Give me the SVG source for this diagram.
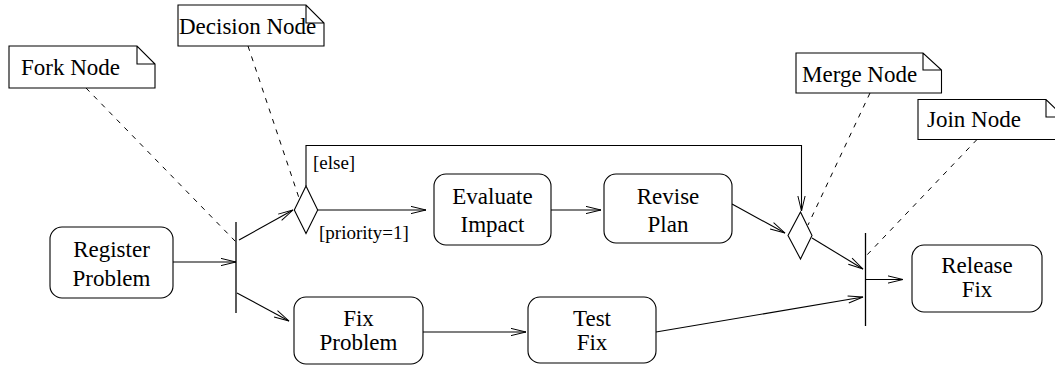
<svg xmlns="http://www.w3.org/2000/svg" width="1055" height="365" viewBox="0 0 1055 365" font-family="'Liberation Serif', 'Times New Roman', Times, serif">
<defs>
<marker id="open" markerUnits="userSpaceOnUse" markerWidth="20" markerHeight="12" viewBox="-16 -6 18 12" refX="0" refY="0" orient="auto">
<path d="M -15 -3.6 L 0 0 L -15 3.6" fill="none" stroke="#000" stroke-width="1"/>
</marker>
</defs>
<style>
.box{fill:#fff;stroke:#000;stroke-width:1.1}
.note{fill:#fff;stroke:#000;stroke-width:1.1}
.bar{stroke:#000;stroke-width:1.3;fill:none}
.dia{fill:#fff;stroke:#000;stroke-width:1.1}
text{font-family:'Liberation Serif','Times New Roman',Times,serif}
.t{font-size:23px;fill:#000}
.m{text-anchor:middle}
.g{font-size:19px;fill:#000}
.c{stroke:#000;stroke-width:1.1;fill:none}
.a{marker-end:url(#open)}
.d{stroke:#000;stroke-width:1;fill:none;stroke-dasharray:5 6}
</style>

<g id="connectors">
<line class="c a" x1="173" y1="262" x2="236" y2="262"/>
<line class="c a" x1="239" y1="240" x2="293" y2="210"/>
<line class="c a" x1="237" y1="293" x2="289" y2="321"/>
<line class="c a" x1="318" y1="210" x2="426" y2="210"/>
<polyline class="c a" points="306,186 306,145.5 801.5,145.5 801.5,211"/>
<line class="c a" x1="551" y1="210" x2="601" y2="210"/>
<line class="c a" x1="732" y1="204" x2="785" y2="233"/>
<line class="c a" x1="812" y1="238" x2="863" y2="269"/>
<line class="c a" x1="423" y1="332" x2="526" y2="332"/>
<line class="c a" x1="656" y1="332" x2="863" y2="297"/>
<line class="c a" x1="866" y1="279.5" x2="903" y2="279.5"/>
<line class="d" x1="86" y1="88" x2="236" y2="242"/>
<line class="d" x1="248" y1="46" x2="299" y2="198"/>
<line class="d" x1="870" y1="93" x2="808" y2="225"/>
<line class="d" x1="977" y1="139.5" x2="866" y2="256"/>
</g>

<g id="note-fork">
<path class="note" d="M9 46 H137 L155 64 V88 H9 Z M137 46 V64 H155"/>
<text class="t" x="21" y="75">Fork Node</text>
</g>
<g id="note-decision">
<path class="note" d="M178 5 H306 L324 23 V46 H178 Z M306 5 V23 H324"/>
<text class="t" x="179" y="34">Decision Node</text>
</g>
<g id="note-merge">
<path class="note" d="M796 53 H923 L941.5 70 V93 H796 Z M923 53 V70 H941.5"/>
<text class="t" x="802" y="82">Merge Node</text>
</g>
<g id="note-join">
<path class="note" d="M918 99.5 H1046 L1064 117 V139.5 H918 Z M1046 99.5 V117 H1064"/>
<text class="t" x="927" y="127">Join Node</text>
</g>

<g id="register-problem">
<rect class="box" x="50" y="227" width="123" height="71" rx="12"/>
<text class="t m" x="111.5" y="257">Register</text>
<text class="t m" x="111.5" y="286">Problem</text>
</g>
<g id="fork">
<line class="bar" x1="236" y1="222" x2="236" y2="313"/>
</g>
<g id="decision">
<polygon class="dia" points="306,186 317.7,210 306,233.5 294.3,210"/>
</g>
<text class="g" x="313" y="168.5">[else]</text>
<text class="g" x="319" y="238.5">[priority=1]</text>
<g id="evaluate-impact">
<rect class="box" x="434" y="174" width="117" height="71" rx="12"/>
<text class="t m" x="492.5" y="204">Evaluate</text>
<text class="t m" x="492.5" y="231.5">Impact</text>
</g>
<g id="revise-plan">
<rect class="box" x="604" y="174" width="128" height="69" rx="12"/>
<text class="t m" x="668" y="204">Revise</text>
<text class="t m" x="668" y="231.5">Plan</text>
</g>
<g id="merge">
<polygon class="dia" points="800.5,212 812,235.5 800.5,259 788,235.5"/>
</g>
<g id="join">
<line class="bar" x1="865.5" y1="233" x2="865.5" y2="326"/>
</g>
<g id="fix-problem">
<rect class="box" x="294" y="297" width="129" height="67" rx="12"/>
<text class="t m" x="358.5" y="326">Fix</text>
<text class="t m" x="358.5" y="350">Problem</text>
</g>
<g id="test-fix">
<rect class="box" x="528" y="297" width="128" height="66" rx="12"/>
<text class="t m" x="592" y="326">Test</text>
<text class="t m" x="592" y="350">Fix</text>
</g>
<g id="release-fix">
<rect class="box" x="912" y="245" width="130" height="67" rx="12"/>
<text class="t m" x="977" y="273">Release</text>
<text class="t m" x="977" y="297">Fix</text>
</g>
</svg>
